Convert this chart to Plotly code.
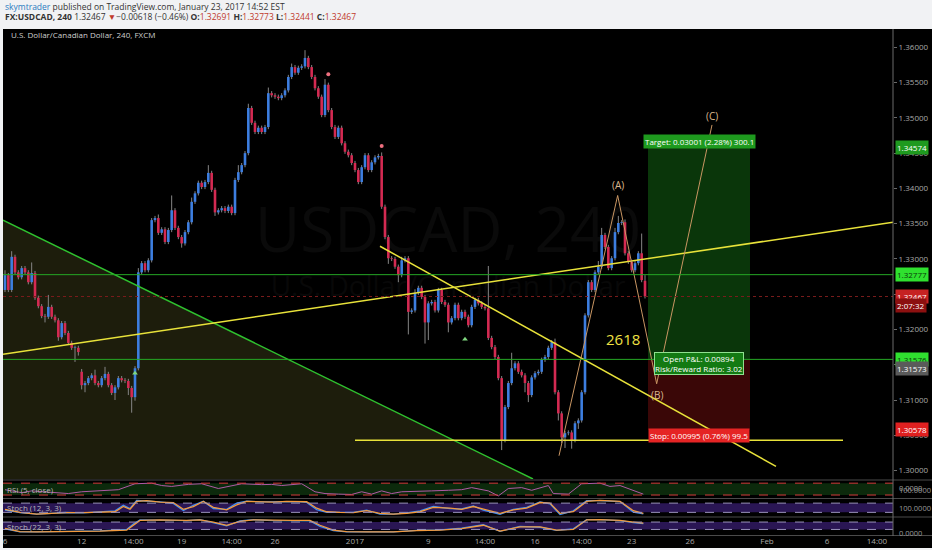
import plotly.graph_objects as go

# ---- USDCAD 4H candles ----
closes = [
    1.3277, 1.3256, 1.3303, 1.3281, 1.3274, 1.3287, 1.3281, 1.3267, 1.3280, 1.3245,
    1.3233, 1.3219, 1.3218, 1.3232, 1.3218, 1.3213, 1.3189, 1.3209, 1.3195, 1.3181,
    1.3174, 1.3174, 1.3168, 1.3121, 1.3124, 1.3131, 1.3135, 1.3124, 1.3121, 1.3131,
    1.3137, 1.3121, 1.3110, 1.3118, 1.3131, 1.3128, 1.3127, 1.3117, 1.3104, 1.3145,
    1.3281, 1.3294, 1.3284, 1.3298, 1.3355, 1.3358, 1.3337, 1.3342, 1.3324, 1.3341,
    1.3369, 1.3344, 1.3331, 1.3322, 1.3338, 1.3352, 1.3381, 1.3393, 1.3408, 1.3402,
    1.3409, 1.3422, 1.3398, 1.3366, 1.3369, 1.3372, 1.3368, 1.3374, 1.3365, 1.3412,
    1.3423, 1.3433, 1.3450, 1.3514, 1.3493, 1.3480, 1.3486, 1.3480, 1.3487, 1.3535,
    1.3532, 1.3530, 1.3528, 1.3532, 1.3539, 1.3558, 1.3572, 1.3564, 1.3571, 1.3573,
    1.3585, 1.3572, 1.3558, 1.3542, 1.3530, 1.3504, 1.3547, 1.3511, 1.3487, 1.3473,
    1.3486, 1.3464, 1.3452, 1.3447, 1.3436, 1.3426, 1.3409, 1.3430, 1.3447, 1.3426,
    1.3437, 1.3444, 1.3446, 1.3374, 1.3331, 1.3301, 1.3300, 1.3289, 1.3277, 1.3298,
    1.3301, 1.3225, 1.3227, 1.3252, 1.3259, 1.3246, 1.3210, 1.3237, 1.3239, 1.3227,
    1.3256, 1.3239, 1.3235, 1.3210, 1.3216, 1.3235, 1.3216, 1.3225, 1.3218, 1.3206,
    1.3232, 1.3242, 1.3237, 1.3232, 1.3230, 1.3188, 1.3175, 1.3161, 1.3131, 1.3043,
    1.3090, 1.3124, 1.3145, 1.3152, 1.3140, 1.3135, 1.3124, 1.3107, 1.3132, 1.3138,
    1.3140, 1.3157, 1.3161, 1.3174, 1.3182, 1.3111, 1.3081, 1.3047, 1.3053, 1.3054,
    1.3043, 1.3067, 1.3071, 1.3111, 1.3220, 1.3267, 1.3256, 1.3281, 1.3289, 1.3334,
    1.3317, 1.3287, 1.3301, 1.3338, 1.3351, 1.3352, 1.3308, 1.3296, 1.3284, 1.3294,
    1.3308, 1.3270, 1.3247]
# opens that differ from the previous close
gap_opens = {0: 1.3256, 23: 1.3140, 192: 1.3269}
# wick lengths in pips above / below the body
wick_up = [
    7, 3, 8, 3, 3, 3, 3, 3, 15, 3,
    3, 3, 3, 17, 3, 3, 3, 3, 3, 3,
    3, 3, 3, 4, 3, 3, 3, 8, 3, 3,
    10, 3, 3, 3, 3, 3, 3, 3, 3, 3,
    6, 3, 3, 3, 3, 3, 5, 3, 3, 3,
    21, 3, 3, 3, 3, 3, 6, 3, 3, 3,
    3, 11, 3, 3, 3, 3, 3, 3, 3, 3,
    10, 3, 3, 6, 3, 3, 3, 3, 3, 8,
    3, 3, 3, 3, 3, 3, 5, 3, 3, 3,
    11, 3, 3, 3, 3, 3, 8, 3, 3, 3,
    3, 3, 3, 3, 3, 3, 3, 3, 3, 3,
    3, 3, 3, 5, 3, 3, 3, 3, 3, 5,
    3, 3, 3, 5, 3, 3, 3, 3, 3, 3,
    3, 3, 3, 3, 3, 3, 3, 3, 3, 3,
    3, 3, 3, 3, 3, 60, 3, 3, 3, 3,
    3, 3, 22, 3, 3, 3, 3, 3, 3, 3,
    3, 3, 3, 3, 3, 5, 3, 3, 3, 3,
    3, 3, 3, 3, 3, 3, 3, 3, 8, 10,
    3, 3, 3, 6, 10, 3, 4, 3, 3, 3,
    3, 28, 8]
wick_dn = [
    3, 3, 3, 3, 3, 3, 3, 3, 3, 3,
    3, 3, 8, 3, 3, 3, 5, 3, 3, 3,
    3, 20, 5, 6, 10, 3, 3, 3, 3, 3,
    3, 3, 3, 10, 3, 3, 3, 10, 22, 5,
    3, 3, 3, 3, 3, 3, 3, 3, 3, 3,
    3, 3, 3, 6, 3, 3, 3, 3, 3, 3,
    3, 3, 3, 5, 3, 3, 3, 3, 3, 3,
    3, 3, 3, 3, 3, 3, 3, 3, 3, 3,
    3, 3, 3, 3, 3, 3, 3, 3, 3, 3,
    3, 3, 3, 3, 3, 3, 3, 3, 3, 3,
    3, 3, 3, 3, 3, 3, 3, 3, 3, 3,
    3, 3, 3, 3, 3, 8, 3, 3, 10, 3,
    3, 32, 3, 3, 3, 3, 30, 25, 3, 3,
    3, 3, 3, 14, 3, 3, 3, 3, 3, 3,
    3, 3, 3, 3, 3, 3, 3, 3, 3, 14,
    3, 3, 3, 3, 3, 3, 13, 10, 3, 3,
    3, 3, 3, 3, 3, 3, 10, 8, 15, 3,
    12, 3, 8, 3, 3, 3, 3, 3, 3, 3,
    3, 3, 3, 3, 3, 3, 3, 3, 3, 3,
    3, 3, 3]

# ---- indicators (sampled by bar index) ----
rsi_x = [0, 5, 8, 14, 19, 23, 29, 34, 39, 42, 44, 47, 50, 55, 59, 64, 68, 71, 77, 80,
         83, 86, 89, 93, 96, 100, 104, 107, 110, 113, 116, 119, 124, 128, 133, 137, 140,
         145, 148, 151, 155, 158, 163, 164.5, 169, 170.5, 173, 178.5, 181.5, 184.5, 188.5, 191.5]
rsi_y = [48, 38, 44, 38, 35, 41, 44, 48, 68, 70, 70, 62, 59, 66, 68, 52, 62, 68, 65, 66,
         62, 66, 68, 41, 35, 33, 32, 41, 33, 44, 35, 41, 44, 44, 46, 48, 55,
         44, 27, 52, 55, 46, 62, 35, 33, 46, 68, 70, 59, 62, 44, 33]

st1_x = [0, 4.5, 9.5, 13.5, 18.5, 23.5, 28.5, 33, 35.5, 37.5, 39.5, 42.5, 46.5, 50.5,
         53.5, 56.5, 59.5, 62.5, 66.5, 69.5, 72.5, 76.5, 80.5, 84.5, 87.5, 90.5, 93.5,
         96.5, 100.5, 104.5, 108.5, 112.5, 116.5, 120.5, 124.5, 128.5, 133.5, 137,
         140.5, 143.5, 148.5, 152.5, 156.5, 160.5, 163.5, 166.5, 170.5, 174.5, 178.5,
         184.5, 188.5, 191.5]
st1_d = [40, 20, 9, 13, 18, 18, 20, 24, 58, 40, 91, 96, 87, 84, 40, 58, 91, 53, 36, 69,
         91, 89, 87, 91, 91, 89, 47, 24, 20, 18, 31, 13, 9, 13, 24, 53, 47, 40, 58, 40,
         13, 36, 47, 84, 80, 13, 24, 91, 98, 91, 31, 13]
st1_k = [35, 18, 8, 15, 19, 17, 22, 30, 66, 45, 97, 95, 88, 78, 32, 66, 93, 45, 40, 80,
         93, 88, 89, 92, 90, 85, 38, 20, 21, 20, 35, 9, 8, 16, 30, 58, 44, 42, 62, 35,
         8, 40, 52, 88, 76, 6, 30, 96, 97, 90, 22, 10]

st2_x = [0, 4.5, 9.5, 18.5, 28.5, 36.5, 38.5, 40.5, 46.5, 54.5, 58.5, 62.5, 66.5, 70.5,
         74.5, 80.5, 86.5, 91.5, 94.5, 98.5, 102.5, 108.5, 116.5, 123.5, 130.5, 137,
         143.5, 148.5, 154.5, 160.5, 165.5, 170.5, 174.5, 178.5, 184.5, 188.5, 191.5]
st2_d = [28, 2, 0, 2, 7, 15, 54, 93, 98, 93, 98, 80, 54, 85, 98, 93, 93, 93, 54, 15,
         2, 0, 0, 10, 15, 26, 54, 7, 41, 41, 15, 20, 98, 100, 93, 80, 72]
st2_k = [24, 1, 0, 3, 9, 20, 65, 97, 97, 91, 99, 74, 50, 90, 99, 92, 94, 90, 45, 10,
         1, 0, 1, 12, 17, 30, 58, 4, 45, 38, 12, 25, 100, 99, 91, 76, 68]

# ---- time axis labels ----
tick_pos = [0, 23, 38.5, 53, 68, 81, 105, 127, 144, 159, 173, 188, 205.5, 228.6, 246.6, 261.6]
tick_txt = ['6', '12', '14:00', '19', '14:00', '26', '2017', '9', '14:00', '16', '14:00',
            '23', '26', 'Feb', '6', '14:00']

# ---- drawings ----
green_trend_x = [-0.6, 158.4]
green_trend_y = [1.3355, 1.2988]
yellow_up_x = [-0.6, 266.4]
yellow_up_y = [1.3165, 1.3352]
yellow_dn_x = [112.5, 231.3]
yellow_dn_y = [1.3318, 1.3006]
yellow_flat_x = [105, 251.4]
yellow_flat_y = [1.3043, 1.3043]
wave_x = [166.2, 183.8, 195.5, 212.1]
wave_y = [1.3021, 1.3390, 1.3123, 1.3490]
wave_lbl = ['(A)', '(B)', '(C)']
res_level = 1.32777
sup_level = 1.31576
last_price = 1.32467
pos_x = [192.9, 223.5]
entry, target, stop = 1.31573, 1.34574, 1.30578
pivot_hi_x = [97, 113]
pivot_hi_y = [1.3562, 1.3460]
pivot_lo_x = [39, 138]
pivot_lo_y = [1.3138, 1.3186]

X_RANGE = [-0.6, 266.4]
Y_RANGE = [1.2988, 1.3626]
PIP = 0.0001
UP, DOWN, WICK = '#3d7ee0', '#d42a52', '#858585'
FONT = 'Open Sans'


def px(p):
    return p / 932


def py(p):
    return 1 - p / 550


n = len(closes)
opens = [gap_opens.get(i, closes[i - 1] if i else closes[0]) for i in range(n)]
highs = [max(o, c) + u * PIP for o, c, u in zip(opens, closes, wick_up)]
lows = [min(o, c) - d * PIP for o, c, d in zip(opens, closes, wick_dn)]

wx, wy = [], []
bodies = {UP: ([], []), DOWN: ([], [])}
for i in range(n):
    wx += [i, i, None]
    wy += [lows[i], highs[i], None]
    o, c = opens[i], closes[i]
    lo, hi = min(o, c), max(o, c)
    if hi - lo < 0.00008:
        hi = lo + 0.00008
    bx, by = bodies[UP if c >= o else DOWN]
    bx += [i, i, None]
    by += [lo, hi, None]

fig = go.Figure()

# olive area under the green trendline
fig.add_trace(go.Scatter(x=green_trend_x + [green_trend_x[0]],
                         y=green_trend_y + [Y_RANGE[0]], fill='toself',
                         fillcolor='#1d1d0c', line=dict(width=0), mode='lines',
                         hoverinfo='skip'))
# watermark
fig.add_trace(go.Scatter(x=[132.9, 132.9], y=[1.3332, 1.3258], mode='text',
                         text=['USDCAD, 240', 'U.S. Dollar/Canadian Dollar'],
                         textfont=dict(size=[62, 28], color=['#0a0a0a', '#080808'], family=FONT),
                         hoverinfo='skip'))
# candles
fig.add_trace(go.Scatter(x=wx, y=wy, mode='lines', line=dict(color=WICK, width=1),
                         hoverinfo='skip'))
for col, (bx, by) in bodies.items():
    fig.add_trace(go.Scatter(x=bx, y=by, mode='lines', line=dict(color=col, width=2.6),
                             hoverinfo='skip'))

# trendlines
fig.add_trace(go.Scatter(x=green_trend_x, y=green_trend_y, mode='lines',
                         line=dict(color='#2fc12f', width=1.5)))
for lx, ly in [(yellow_up_x, yellow_up_y), (yellow_dn_x, yellow_dn_y),
               (yellow_flat_x, yellow_flat_y)]:
    fig.add_trace(go.Scatter(x=lx, y=ly, mode='lines', line=dict(color='#e8e23a', width=1.5)))
fig.add_trace(go.Scatter(x=wave_x, y=wave_y, mode='lines', line=dict(color='#c99663', width=1)))
fig.add_trace(go.Scatter(x=pivot_hi_x, y=pivot_hi_y, mode='markers',
                         marker=dict(color='#ee6f7f', size=4)))
fig.add_trace(go.Scatter(x=pivot_lo_x, y=pivot_lo_y, mode='markers',
                         marker=dict(color='#7fd67f', size=5, symbol='triangle-up')))

# indicators
fig.add_trace(go.Scatter(x=rsi_x, y=rsi_y, yaxis='y2', mode='lines',
                         line=dict(color='#b05aa6', width=1)))
fig.add_trace(go.Scatter(x=st1_x, y=st1_k, yaxis='y3', mode='lines',
                         line=dict(color='#3a8ef5', width=1.3)))
fig.add_trace(go.Scatter(x=st1_x, y=st1_d, yaxis='y3', mode='lines',
                         line=dict(color='#f39a3c', width=1.3)))
fig.add_trace(go.Scatter(x=st2_x, y=st2_k, yaxis='y4', mode='lines',
                         line=dict(color='#3a8ef5', width=1.3)))
fig.add_trace(go.Scatter(x=st2_x, y=st2_d, yaxis='y4', mode='lines',
                         line=dict(color='#f39a3c', width=1.3)))

shapes = [
    # light page areas
    dict(type='rect', xref='paper', yref='paper', x0=0, x1=1, y0=py(29), y1=1,
         fillcolor='#f1f2f4', line=dict(width=0), layer='above'),
    dict(type='rect', xref='paper', yref='paper', x0=0, x1=px(3), y0=0, y1=1,
         fillcolor='#f1f2f4', line=dict(width=0), layer='above'),
    dict(type='rect', xref='paper', yref='paper', x0=0, x1=1, y0=0, y1=py(548),
         fillcolor='#f1f2f4', line=dict(width=0), layer='above'),
    # long position tool
    dict(type='rect', xref='x', yref='y', x0=pos_x[0], x1=pos_x[1], y0=entry, y1=target,
         fillcolor='#0a360a', line=dict(width=0), layer='below'),
    dict(type='rect', xref='x', yref='y', x0=pos_x[0], x1=pos_x[1], y0=stop, y1=entry,
         fillcolor='#3a0707', line=dict(width=0), layer='below'),
    # indicator bands
    dict(type='rect', xref='paper', yref='y2', x0=px(3), x1=px(893), y0=30, y1=70,
         fillcolor='#0c2a0c', line=dict(width=0), layer='below'),
    dict(type='rect', xref='paper', yref='y3', x0=px(3), x1=px(893), y0=20, y1=80,
         fillcolor='#2a1654', line=dict(width=0), layer='below'),
    dict(type='rect', xref='paper', yref='y4', x0=px(3), x1=px(893), y0=20, y1=80,
         fillcolor='#2a1654', line=dict(width=0), layer='below'),
]
for lv in (30, 70):
    shapes.append(dict(type='line', xref='paper', yref='y2', x0=px(3), x1=px(893), y0=lv, y1=lv,
                       line=dict(color='#d33a3a', width=1, dash='dash')))
for ax in ('y3', 'y4'):
    for lv in (20, 80):
        shapes.append(dict(type='line', xref='paper', yref=ax, x0=px(3), x1=px(893), y0=lv, y1=lv,
                           line=dict(color='#9a92bb', width=1, dash='dash')))
for lv in (res_level, sup_level):
    shapes.append(dict(type='line', xref='paper', yref='y', x0=px(3), x1=px(893), y0=lv, y1=lv,
                       line=dict(color='#25a825', width=1)))
shapes.append(dict(type='line', xref='paper', yref='y', x0=px(3), x1=px(893),
                   y0=last_price, y1=last_price, line=dict(color='#7a1c1c', width=1, dash='dot')))
for sep in (480, 498.5, 517, 535.5):
    shapes.append(dict(type='line', xref='paper', yref='paper', x0=px(3), x1=1,
                       y0=py(sep), y1=py(sep), line=dict(color='#4a4a4a', width=1)))
shapes.append(dict(type='line', xref='paper', yref='paper', x0=px(893), x1=px(893),
                   y0=py(536), y1=py(29), line=dict(color='#6a6a6a', width=1)))

ann = []


def note(text, x, y, size=8, color='#cccccc', xanchor='left', **kw):
    ann.append(dict(text=text, x=x, y=y, xref=kw.pop('xref', 'paper'), yref=kw.pop('yref', 'paper'),
                    showarrow=False, xanchor=xanchor, yanchor=kw.pop('yanchor', 'middle'),
                    font=dict(size=size, color=color, family=FONT), **kw))


RED = '#c0392b'
note('<span style="color:#2b7bbf">skymtrader</span> published on TradingView.com, '
     'January 23, 2017 14:52 EST', px(3), py(7), size=8.5, color='#333333')
note('<b>FX:USDCAD, 240</b> 1.32467 <span style="color:%s">▼</span>−0.00618 (−0.46%%) '
     '<b>O:</b><span style="color:%s">1.32691</span> <b>H:</b><span style="color:%s">1.32773</span> '
     '<b>L:</b><span style="color:%s">1.32441</span> <b>C:</b><span style="color:%s">1.32467</span>'
     % (RED, RED, RED, RED, RED), px(3), py(17), size=8.5, color='#333333')
note('U.S. Dollar/Canadian Dollar, 240, FXCM', px(9), py(35), size=8, color='#cfcfcf')
note('RSI (5, close)', px(5), py(489), size=8, color='#b8b8b8')
note('Stoch (12, 3, 3)', px(5), py(507), size=8, color='#b8b8b8')
note('Stoch (22, 3, 3)', px(5), py(526), size=8, color='#b8b8b8')

# right-hand price tags
tags = [(target, '1.34574', '#1f9a1f', '#ffffff', 0),
        (res_level, '1.32777', '#2fe02f', '#0a3a0a', 0),
        (last_price, '1.32467', '#c62222', '#ffffff', 0),
        (last_price, '2:07:32', '#8c1010', '#ffffff', -9),
        (sup_level, '1.31576', '#2fe02f', '#0a3a0a', 0),
        (entry, '1.31573', '#5a5a5a', '#ffffff', -9),
        (stop, '1.30578', '#e02020', '#ffffff', 0)]
for yv, txt, bg, fg, shift in tags:
    note(txt, px(895), yv, size=8, color=fg, yref='y', bgcolor=bg, borderpad=1, yshift=shift)
for txt, yp in [('0.0000', 488), ('100.0000', 490), ('100.0000', 508), ('0.0000', 533)]:
    note(txt, px(897), py(yp), size=7.5, color='#9a9a9a')

# position tool labels
mid = (pos_x[0] + pos_x[1]) / 2
note('Target: 0.03001 (2.28%) 300.1', mid, target, size=8, color='#ffffff', xref='x',
     yref='y', xanchor='center', bgcolor='#1e9a1e', borderpad=1, yshift=6)
note('Open P&L: 0.00894<br>Risk/Reward Ratio: 3.02', mid, entry, size=8, color='#ffffff',
     xref='x', yref='y', xanchor='center', bgcolor='#137a13', bordercolor='#8fe08f',
     borderwidth=1, borderpad=0, yshift=-4)
note('Stop: 0.00995 (0.76%) 99.5', mid, stop, size=8, color='#ffffff', xref='x', yref='y',
     xanchor='center', bgcolor='#e52424', borderpad=1, yshift=-6)

# wave labels and number
for (wxv, wyv), lbl, sh in zip(zip(wave_x[1:], wave_y[1:]), wave_lbl, (10, -11, 9)):
    note(lbl, wxv, wyv, size=10, color='#dcb88e', xref='x', yref='y', xanchor='center', yshift=sh)
note('2618', 185.4, 1.31864, size=15, color='#f0e244', xref='x', yref='y', xanchor='center')

fig.update_layout(
    width=932, height=550, margin=dict(l=0, r=0, t=0, b=0),
    paper_bgcolor='#000000', plot_bgcolor='#000000', showlegend=False,
    hovermode=False, shapes=shapes, annotations=ann,
    font=dict(family=FONT, color='#a0a0a0', size=8),
    xaxis=dict(domain=[px(3), px(893)], range=X_RANGE, anchor='y4', showgrid=False,
               zeroline=False, showline=False, ticks='', tickmode='array',
               tickvals=tick_pos, ticktext=tick_txt, tickfont=dict(size=8, color='#a8a8a8'),
               fixedrange=True),
    yaxis=dict(domain=[py(479), py(29)], range=Y_RANGE, side='right', anchor='x',
               showgrid=False, zeroline=False, tickformat='.5f', dtick=0.005, tick0=1.30,
               ticks='outside', ticklen=3, tickcolor='#6a6a6a',
               tickfont=dict(size=8, color='#a8a8a8')),
    yaxis2=dict(domain=[py(498), py(480.5)], range=[20, 79], anchor='x', showgrid=False,
                zeroline=False, showticklabels=False),
    yaxis3=dict(domain=[py(516.5), py(499)], range=[-7, 107], anchor='x', showgrid=False,
                zeroline=False, showticklabels=False),
    yaxis4=dict(domain=[py(535), py(517.5)], range=[-25, 117], anchor='x', showgrid=False,
                zeroline=False, showticklabels=False),
)

fig.write_html('out.html', config={'displayModeBar': False},
               post_script="document.body.style.margin='0';")
